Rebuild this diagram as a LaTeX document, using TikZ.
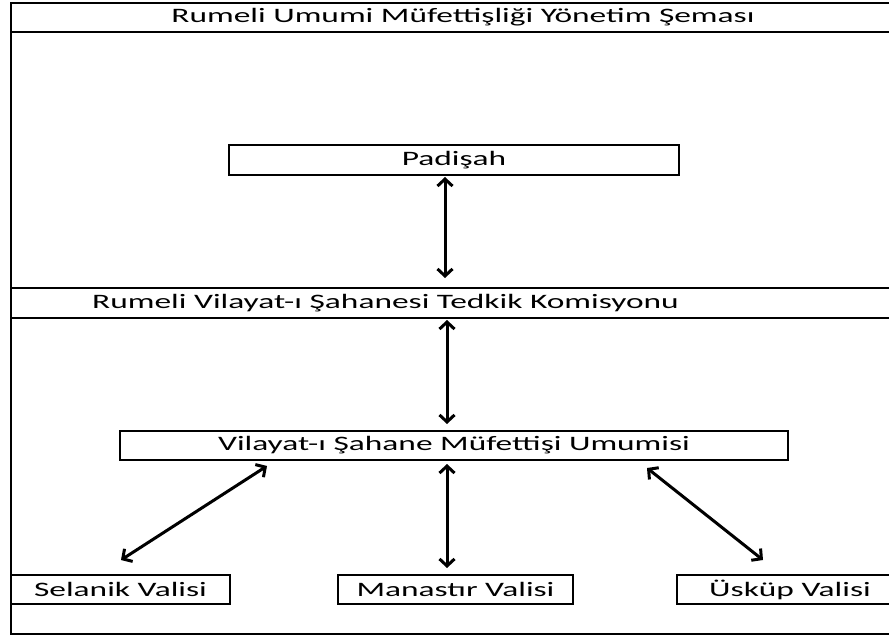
\documentclass[tikz,border=0pt]{standalone}
\usepackage{fontspec}
\setmainfont{Carlito}
\usetikzlibrary{arrows.meta}
\newcommand{\wtxt}[1]{\scalebox{1.63}[1]{#1}}
\tikzset{
  frameline/.style={line width=1.8pt, black},
  orgbox/.style={draw, line width=1.8pt, inner sep=0pt, minimum height=30pt, font=\fontsize{20.5pt}{24pt}\selectfont},
  label/.style={inner sep=0pt, font=\fontsize{20.5pt}{24pt}\selectfont},
  link/.style={line width=3pt, {Straight Barb[length=7pt,width=15pt]}-{Straight Barb[length=7pt,width=15pt]}}
}
\begin{document}
\begin{tikzpicture}[x=1pt,y=-1pt]
\useasboundingbox[fill=white] (0,0) rectangle (889,639);
% frame
\draw[frameline] (900,3) -- (11,3) -- (11,634) -- (900,634);
\draw[frameline] (11,32) -- (900,32);
\draw[frameline] (11,288) -- (900,288);
\draw[frameline] (11,318) -- (900,318);
% texts
\node[label] (title) at (463,17) {\wtxt{Rumeli Umumi Müfettişliği Yönetim Şeması}};
\node[label, anchor=west] (komisyon) at (92,303) {\wtxt{Rumeli Vilayat-ı Şahanesi Tedkik Komisyonu}};
% boxes
\node[orgbox, minimum width=450pt] (padisah) at (454,160) {\wtxt{Padişah}};
\node[orgbox, minimum width=668pt, minimum height=29pt] (vilayat) at (454,445.5) {\wtxt{Vilayat-ı Şahane Müfettişi Umumisi}};
\node[orgbox, minimum width=219pt, minimum height=29pt] (selanik) at (120.5,589.5) {\wtxt{Selanik Valisi}};
\node[orgbox, minimum width=235pt, minimum height=29pt] (manastir) at (455.5,589.5) {\wtxt{Manastır Valisi}};
\node[orgbox, minimum width=226pt, minimum height=29pt] (uskup) at (790,589.5) {\wtxt{Üsküp Valisi}};
% arrow ends
\coordinate (a1s) at (445,177);
\coordinate (a1e) at (445,278);
\coordinate (a2s) at (447,320);
\coordinate (a2e) at (447,424);
\coordinate (a3s) at (447,464);
\coordinate (a3e) at (447,568);
\coordinate (a4s) at (267,466);
\coordinate (a4e) at (121,560);
\coordinate (a5s) at (647,468);
\coordinate (a5e) at (763,560);
\draw[link] (a1s) -- (a1e);
\draw[link] (a2s) -- (a2e);
\draw[link] (a3s) -- (a3e);
\draw[link] (a4s) -- (a4e);
\draw[link] (a5s) -- (a5e);
\end{tikzpicture}
\end{document}
